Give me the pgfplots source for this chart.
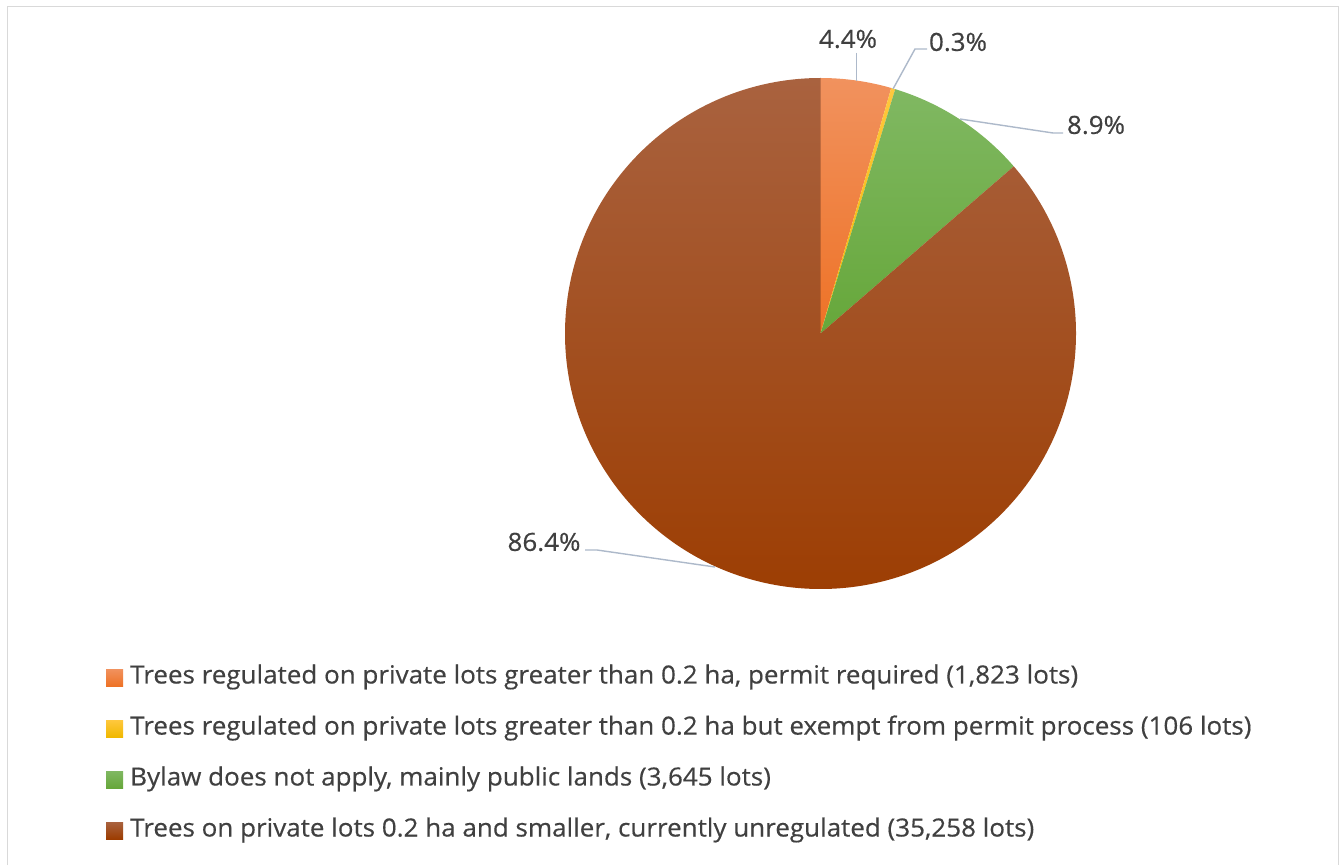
\documentclass[border=0pt]{standalone}
\usepackage{pgfplots}
\pgfplotsset{compat=1.18}
\usepackage{pgfplotstable}
\usepackage{fontspec}
\setmainfont[FakeStretch=1.04,FakeBold=0.4]{Open Sans}
\definecolor{txt}{HTML}{404040}
\definecolor{lead}{HTML}{ADB9CA}
\definecolor{frame}{HTML}{D9D9D9}
\definecolor{oT}{HTML}{F1925E}\definecolor{oB}{HTML}{EE7226}
\definecolor{yT}{HTML}{FFC83E}\definecolor{yB}{HTML}{F0B800}
\definecolor{gT}{HTML}{80B862}\definecolor{gB}{HTML}{66A73A}
\definecolor{bT}{HTML}{A9623F}\definecolor{bB}{HTML}{9C3C00}
\pgfplotstableread{
idx value
0 1823
1 106
2 3645
3 35258
}\piedata
\begin{document}
\begin{tikzpicture}
\pgfplotstablegetelem{0}{value}\of\piedata \edef\va{\pgfplotsretval}
\pgfplotstablegetelem{1}{value}\of\piedata \edef\vb{\pgfplotsretval}
\pgfplotstablegetelem{2}{value}\of\piedata \edef\vc{\pgfplotsretval}
\pgfplotstablegetelem{3}{value}\of\piedata \edef\vd{\pgfplotsretval}
\edef\tot{\fpeval{\va+\vb+\vc+\vd}}
\edef\aA{90}
\edef\aB{\fpeval{90-360*\va/\tot}}
\edef\aC{\fpeval{\aB-360*\vb/\tot}}
\edef\aD{\fpeval{\aC-360*\vc/\tot}}
\edef\aE{-270}
\begin{axis}[x=1pt,y=1pt,xmin=0,xmax=1340,ymin=0,ymax=865,hide axis,scale only axis,clip=false]
\fill[white] (axis cs:0,0) rectangle (axis cs:1340,865);
\draw[frame,line width=1.2pt] (axis cs:7.5,0) -- (axis cs:7.5,858.5) -- (axis cs:1338.5,858.5) -- (axis cs:1338.5,0);
\coordinate (C) at (axis cs:820.5,531.5);
\path[top color=oT,bottom color=oB] (C) -- ++(\aA:255.5pt) arc[start angle=\aA,end angle=\aB,radius=255.5pt] -- cycle;
\path[top color=yT,bottom color=yB] (C) -- ++(\aB:255.5pt) arc[start angle=\aB,end angle=\aC,radius=255.5pt] -- cycle;
\path[top color=gT,bottom color=gB] (C) -- ++(\aC:255.5pt) arc[start angle=\aC,end angle=\aD,radius=255.5pt] -- cycle;
\path[top color=bT,bottom color=bB] (C) -- ++(\aD:255.5pt) arc[start angle=\aD,end angle=\aE,radius=255.5pt] -- cycle;
% leader lines
\draw[lead,line width=1.4pt] (axis cs:856.5,812) -- (axis cs:856.5,784);
\draw[lead,line width=1.4pt] (axis cs:927,816) -- (axis cs:915,816) -- (axis cs:893,776);
\draw[lead,line width=1.4pt] (axis cs:1063,732) -- (axis cs:1053,732) -- (axis cs:960,746);
\draw[lead,line width=1.4pt] (axis cs:585,315) -- (axis cs:597,315) -- (axis cs:715,298);
% labels
\begin{scope}[every node/.style={text=txt,font=\fontsize{25}{29}\selectfont,inner sep=0pt}]
\node at (axis cs:848,826) {4.4\%};
\node at (axis cs:958,823) {0.3\%};
\node at (axis cs:1096,740) {8.9\%};
\node at (axis cs:544,323) {86.4\%};
\end{scope}
% legend
\path[top color=oT,bottom color=oB] (axis cs:106,196) rectangle (axis cs:123,179);
\path[top color=yT,bottom color=yB] (axis cs:106,145) rectangle (axis cs:123,128);
\path[top color=gT,bottom color=gB] (axis cs:106,94) rectangle (axis cs:123,77);
\path[top color=bT,bottom color=bB] (axis cs:106,43) rectangle (axis cs:123,26);
\begin{scope}[every node/.style={text=txt,font=\fontsize{25}{29}\selectfont,inner sep=0pt,anchor=west}]
\node at (axis cs:130,188) {Trees regulated on private lots greater than 0.2 ha, permit required (1,823 lots)};
\node at (axis cs:130,137) {Trees regulated on private lots greater than 0.2 ha but exempt from permit process (106 lots)};
\node at (axis cs:130,86) {Bylaw does not apply, mainly public lands (3,645 lots)};
\node at (axis cs:130,35) {Trees on private lots 0.2 ha and smaller, currently unregulated (35,258 lots)};
\end{scope}
\end{axis}
\end{tikzpicture}
\end{document}
